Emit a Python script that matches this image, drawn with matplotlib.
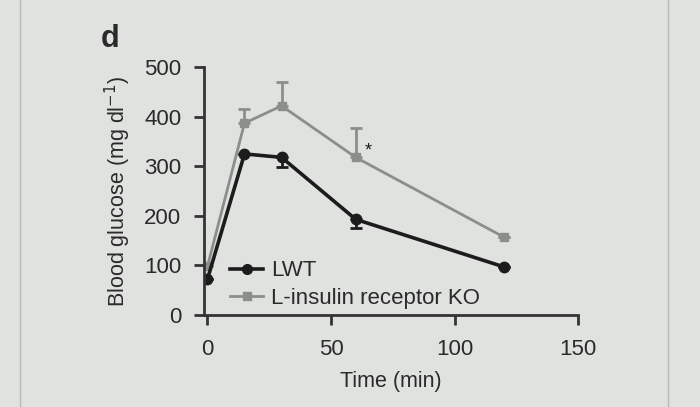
import matplotlib.pyplot as plt
from matplotlib.lines import Line2D

# glucose tolerance test
time = [0, 15, 30, 60, 120]
lwt = [72, 325, 318, 193, 97]
ko = [98, 387, 422, 318, 157]
# one-sided error bars (lower for LWT, upper for KO)
lwt_err_low = [0, 0, 20, 18, 0]
ko_err_up = [0, 28, 48, 60, 0]

bg = '#dfe2df'
dark = '#1c1c1c'
grey = '#8c8e8c'
txt = '#2a2a2a'

plt.rcParams['font.family'] = ['Liberation Sans', 'DejaVu Sans']

fig = plt.figure(figsize=(7, 4.07), dpi=100, facecolor=bg)
ax = fig.add_axes([0.291, 0.226, 0.535, 0.609], facecolor=bg)

ax.errorbar(time, ko, yerr=[[0] * 5, ko_err_up], color=grey, lw=2, marker='s',
            ms=6, capsize=4, elinewidth=2, capthick=2)
ax.errorbar(time, lwt, yerr=[lwt_err_low, [0] * 5], color=dark, lw=2.6, marker='o',
            ms=7.5, capsize=4, elinewidth=2, capthick=2)

ax.text(65, 330, '*', fontsize=13, color=dark, ha='center', va='center')

ax.set_xlim(-1.5, 150)
ax.set_ylim(0, 500)
ax.set_xticks([0, 50, 100, 150])
ax.set_yticks([0, 100, 200, 300, 400, 500])
ax.tick_params(labelsize=16, width=2, length=7, color='#333333', labelcolor=txt)
ax.tick_params(axis='x', pad=10)
ax.tick_params(axis='y', pad=9)
for s in ['top', 'right']:
    ax.spines[s].set_visible(False)
for s in ['left', 'bottom']:
    ax.spines[s].set_linewidth(2)
    ax.spines[s].set_color('#333333')

ax.set_xlabel('Time (min)', fontsize=15.5, color=txt, labelpad=8)
ax.set_ylabel('Blood glucose (mg dl$^{-1}$)', fontsize=15.5, color=txt, labelpad=8)

handles = [Line2D([], [], color=dark, lw=2.6, marker='o', ms=7),
           Line2D([], [], color=grey, lw=2, marker='s', ms=5.5)]
ax.legend(handles, ['LWT', 'L-insulin receptor KO'], loc='lower left',
          bbox_to_anchor=(0.035, -0.03), frameon=False, fontsize=16,
          handlelength=1.5, handletextpad=0.35, labelspacing=0.3,
          labelcolor=txt, borderaxespad=0.2)

fig.text(0.157, 0.905, 'd', fontsize=22, fontweight='bold', color=txt,
         ha='center', va='center')

# monitor bezel edges in the photo
fig.add_artist(Line2D([0.029, 0.029], [0, 1], color='#b8bab8', lw=1))
fig.add_artist(Line2D([0.954, 0.954], [0, 1], color='#b8bab8', lw=1))

fig.savefig('out.png', facecolor=bg)
